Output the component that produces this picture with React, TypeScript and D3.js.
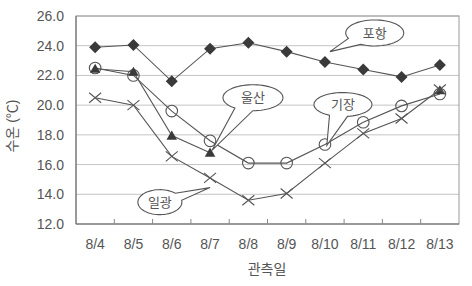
import React from "react";
import * as d3 from "d3";

const dates = ["8/4", "8/5", "8/6", "8/7", "8/8", "8/9", "8/10", "8/11", "8/12", "8/13"];
const pohang = [23.9, 24.05, 21.6, 23.8, 24.2, 23.6, 22.9, 22.4, 21.9, 22.7];
const ulsan: (number | null)[] = [22.45, 22.25, 17.95, 16.8, null, null, null, null, null, 21.0];
const gijang = [22.5, 22.0, 19.6, 17.6, 16.1, 16.1, 17.35, 18.85, 19.95, 20.75];
const ilgwang = [20.5, 20.0, 16.55, 15.1, 13.6, 14.05, 16.1, 18.1, 19.1, 21.05];
const yTicks = [12, 14, 16, 18, 20, 22, 24, 26];

// annotation bubbles: [label, center index, center value, tip index, tip value, rx, ry]
const bubbles: [string, number, number, number, number, number, number][] = [
  ["포항", 7.3, 24.86, 6.13, 23.6, 29, 13],
  ["울산", 4.12, 20.5, 3.05, 16.95, 30, 13],
  ["기장", 6.47, 20.04, 6.05, 17.3, 29, 12],
  ["일광", 1.69, 13.47, 3.0, 14.45, 22, 12.5],
];

const W = 472, H = 286;
const L = 76, R = 459, T = 16, B = 224;
const FONT = "'Liberation Sans', 'Noto Sans CJK KR', sans-serif";
const TXT = "#555";
const LINE = "#555";
const MARK = "#3a3a3a";

export default function App() {
  const x = d3.scaleBand<string>().domain(dates).range([L, R]);
  const xi = d3.scaleLinear().domain([-0.5, dates.length - 0.5]).range([L, R]);
  const y = d3.scaleLinear().domain([12, 26]).range([B, T]);
  const cx = (i: number) => (x(dates[i]) as number) + x.bandwidth() / 2;

  const line = d3
    .line<number | null>()
    .defined((d) => d != null)
    .x((_, i) => cx(i))
    .y((d) => y(d as number));

  const ulsanLine = d3
    .line<number | null>()
    .defined((d, i, arr) => d != null && (arr[i - 1] != null || arr[i + 1] != null))
    .x((_, i) => cx(i))
    .y((d) => y(d as number));

  const diamond = "M0,-6L6,0L0,6L-6,0Z";
  const triangle = d3.symbol(d3.symbolTriangle, 48)() as string;

  const bubblePath = (b: (typeof bubbles)[number]) => {
    const [, ci, cv, ti, tv, rx, ry] = b;
    const ex = xi(ci), ey = y(cv);
    const tx = xi(ti), ty = y(tv);
    const th = Math.atan2((ty - ey) / ry, (tx - ex) / rx);
    const d = 0.32;
    const pts: [number, number][] = [];
    const n = 60;
    for (let k = 0; k <= n; k++) {
      const a = th + d + ((2 * Math.PI - 2 * d) * k) / n;
      pts.push([ex + rx * Math.cos(a), ey + ry * Math.sin(a)]);
    }
    pts.push([tx, ty]);
    return (d3.line()(pts) as string) + "Z";
  };

  return (
    <svg width={W} height={H} style={{ display: "block", position: "absolute", left: 0, top: 0, background: "#fff" }}>
      <rect width={W} height={H} fill="#fff" />
      {yTicks.map((t) => (
        <line key={t} x1={L} x2={R} y1={y(t)} y2={y(t)} stroke="#c4c4c4" strokeWidth={1} />
      ))}
      <rect x={L} y={T} width={R - L} height={B - T} fill="none" stroke="#999" strokeWidth={1} />
      <line x1={L} x2={R} y1={B} y2={B} stroke="#777" strokeWidth={1.2} />
      <line x1={L} x2={L} y1={T} y2={B} stroke="#777" strokeWidth={1.2} />
      {dates.slice(1).map((d) => (
        <line key={d} x1={x(d)} x2={x(d)} y1={B} y2={B - 5} stroke="#888" strokeWidth={1} />
      ))}
      {yTicks.map((t) => (
        <text key={t} x={64} y={y(t)} dy="0.36em" textAnchor="end" fontSize={14} fill={TXT} fontFamily={FONT}>
          {t.toFixed(1)}
        </text>
      ))}
      {dates.map((d, i) => (
        <text key={d} x={cx(i)} y={249} textAnchor="middle" fontSize={14} fill={TXT} fontFamily={FONT}>
          {d}
        </text>
      ))}
      <text x={267} y={274} textAnchor="middle" fontSize={14} fill={TXT} fontFamily={FONT}>
        관측일
      </text>
      <text
        transform={`translate(17,${(T + B) / 2 + 6}) rotate(-90)`}
        textAnchor="middle"
        fontSize={14}
        fill={TXT}
        fontFamily={FONT}
      >
        수온 (℃)
      </text>

      <path d={line(pohang) as string} fill="none" stroke={LINE} strokeWidth={1.1} />
      <path d={ulsanLine(ulsan) as string} fill="none" stroke={LINE} strokeWidth={1.1} />
      <path d={line(gijang) as string} fill="none" stroke={LINE} strokeWidth={1.1} />
      <path d={line(ilgwang) as string} fill="none" stroke={LINE} strokeWidth={1.1} />

      {pohang.map((v, i) => (
        <path key={"p" + i} d={diamond} transform={`translate(${cx(i)},${y(v)})`} fill={MARK} />
      ))}
      {gijang.map((v, i) => (
        <circle key={"g" + i} cx={cx(i)} cy={y(v)} r={5.8} fill="none" stroke={LINE} strokeWidth={1.1} />
      ))}
      {ulsan.map((v, i) =>
        v == null ? null : (
          <path key={"u" + i} d={triangle} transform={`translate(${cx(i)},${y(v) + 1})`} fill={MARK} />
        )
      )}
      {ilgwang.map((v, i) => (
        <path
          key={"i" + i}
          d={`M${cx(i) - 6},${y(v) - 5}L${cx(i) + 6},${y(v) + 5}M${cx(i) - 6},${y(v) + 5}L${cx(i) + 6},${y(v) - 5}`}
          stroke={LINE}
          strokeWidth={1.1}
          fill="none"
        />
      ))}

      {bubbles.map((b) => (
        <g key={b[0]}>
          <path d={bubblePath(b)} fill="#fff" stroke="#555" strokeWidth={1.1} />
          <text
            x={xi(b[1])}
            y={y(b[2])}
            dy="0.36em"
            textAnchor="middle"
            fontSize={13}
            fill={TXT}
            fontFamily={FONT}
          >
            {b[0]}
          </text>
        </g>
      ))}
    </svg>
  );
}
